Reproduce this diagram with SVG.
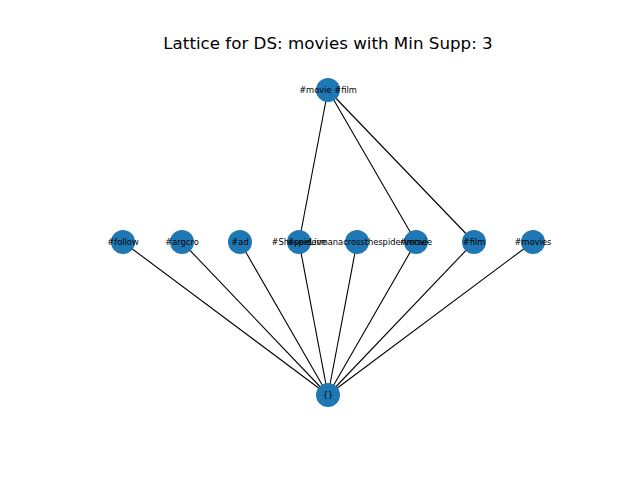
<svg xmlns="http://www.w3.org/2000/svg" width="640" height="480" viewBox="0 0 640 480">
<style>
.e{stroke:#000;stroke-width:1.1;fill:none}
.n{fill:#1f77b4}
.l{font-family:"DejaVu Sans",sans-serif;font-size:8.3px;fill:#000;text-anchor:middle;dominant-baseline:central}
.t{font-family:"DejaVu Sans",sans-serif;font-size:16.7px;fill:#000;text-anchor:middle}
</style>
<rect width="640" height="480" fill="#fff"/>
<text class="t" x="328" y="49">Lattice for DS: movies with Min Supp: 3</text>
<g id="edges">
<line class="e" x1="328" y1="90" x2="299" y2="242"/>
<line class="e" x1="328" y1="90" x2="416" y2="242"/>
<line class="e" x1="328" y1="90" x2="474" y2="242"/>
<line class="e" x1="328" y1="395" x2="123" y2="242"/>
<line class="e" x1="328" y1="395" x2="182" y2="242"/>
<line class="e" x1="328" y1="395" x2="240" y2="242"/>
<line class="e" x1="328" y1="395" x2="299" y2="242"/>
<line class="e" x1="328" y1="395" x2="357" y2="242"/>
<line class="e" x1="328" y1="395" x2="416" y2="242"/>
<line class="e" x1="328" y1="395" x2="474" y2="242"/>
<line class="e" x1="328" y1="395" x2="533" y2="242"/>
</g>
<g id="top"><circle class="n" cx="328" cy="90" r="12"/><text class="l" x="328" y="90">#movie #film</text></g>
<g id="follow"><circle class="n" cx="123" cy="242" r="12"/><text class="l" x="123" y="242">#follow</text></g>
<g id="argcro"><circle class="n" cx="182" cy="242" r="12"/><text class="l" x="182" y="242">#argcro</text></g>
<g id="ad"><circle class="n" cx="240" cy="242" r="12"/><text class="l" x="240" y="242">#ad</text></g>
<g id="shopee"><circle class="n" cx="299" cy="242" r="12"/></g>
<g id="spiderman"><circle class="n" cx="357" cy="242" r="12"/></g>
<g id="movie"><circle class="n" cx="416" cy="242" r="12"/></g>
<g id="film"><circle class="n" cx="474" cy="242" r="12"/><text class="l" x="474" y="242">#film</text></g>
<g id="movies"><circle class="n" cx="533" cy="242" r="12"/><text class="l" x="533" y="242">#movies</text></g>
<g id="labels">
<text class="l" x="299" y="242">#ShopeeLive</text>
<text class="l" x="357" y="242">#spidermanacrossthespiderverse</text>
<text class="l" x="416" y="242">#movie</text>
</g>
<g id="empty"><circle class="n" cx="328" cy="395" r="12"/><text class="l" x="328" y="395">{}</text></g>
</svg>
